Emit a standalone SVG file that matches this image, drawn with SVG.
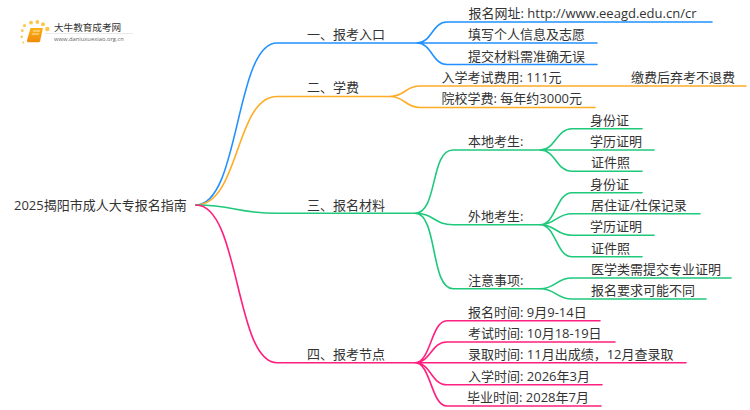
<svg xmlns="http://www.w3.org/2000/svg" width="750" height="410" viewBox="0 0 750 410">
<defs><linearGradient id="bk" x1="0" y1="0" x2="0" y2="1"><stop offset="0" stop-color="#fbb216"/><stop offset="1" stop-color="#f08a0c"/></linearGradient></defs>
<style>
text{font-family:"Open Sans","Noto Sans CJK SC",sans-serif;font-size:13px;fill:#333}
.c{fill:none;stroke-width:1.6;stroke-linecap:round}
.b{stroke:#2291ff}.o{stroke:#ffab24}.g{stroke:#1fc97c}.p{stroke:#ff1f7f}
.d{fill:#fbc64a}
</style>
<rect width="750" height="410" fill="#fff"/>
<g id="logo">
<circle class="d" cx="47.300" cy="29" r="2.200"/><circle class="d" cx="43" cy="24.300" r="2"/><circle class="d" cx="37.300" cy="22" r="1.900"/><circle class="d" cx="31" cy="22.700" r="1.900"/><circle class="d" cx="24.500" cy="25.500" r="1.600"/><circle class="d" cx="22.300" cy="30.700" r="1.400"/><circle class="d" cx="21.700" cy="36.700" r="1.200"/><circle class="d" cx="23.400" cy="42.400" r="1"/>
<path d="M30.500 28h12.500l-3 13.500q-.4 .8-1.500 .8h-10.500q-1.500-.3-1-2z" fill="url(#bk)"/><path d="M33 31h7M32 34h7" stroke="#ffe6b0" stroke-width="1"/>
<text x="54" y="31" style="font-size:9.600px">大牛教育成考网</text>
<text x="54" y="41" style="font-size:5.800px;fill:#666">www.daniuxuexiao.org.cn</text>
<path d="M45 33.500h88" stroke="#e4e4e4" stroke-width="0.800"/>
</g>
<g id="connectors">
<path class="c b" d="M196 205C240 205 235 43 277 43H417"/>
<path class="c o" d="M196 205C240 205 235 96.500 277 96.500H390"/>
<path class="c g" d="M196 205C235 205 235 213.300 277 213.300H415"/>
<path class="c p" d="M196 205C240 205 235 362.700 277 362.700H415"/>
<path class="c b" d="M417 43C432 43 432 22 447 22H712M417 43H597M417 43C432 43 432 64.500 447 64.500H597"/>
<path class="c o" d="M390 96.500C405 96.500 405 86 420 86H746M390 96.500C405 96.500 405 107.500 420 107.500H595"/>
<path class="c g" d="M415 213.300C438 213.300 430 150 453 150H540M415 213.300C434 213.300 434 224.700 453 224.700H540M415 213.300C438 213.300 430 288.700 453 288.700H540"/>
<path class="c g" d="M540 150C556 150 556 128.700 572 128.700H642M540 150H654M540 150C556 150 556 171.300 572 171.300H642"/>
<path class="c g" d="M540 224.700C556 224.700 556 192.700 572 192.700H642M540 224.700C556 224.700 556 213.700 572 213.700H700M540 224.700C556 224.700 556 235.300 572 235.300H654M540 224.700C556 224.700 556 256.700 572 256.700H642"/>
<path class="c g" d="M540 288.700C556 288.700 556 278 572 278H731M540 288.700C556 288.700 556 299 572 299H706"/>
<path class="c p" d="M415 362.700C431 362.700 431 320.700 447 320.700H600M415 362.700C431 362.700 431 342 447 342H615M415 362.700H686M415 362.700C431 362.700 431 384.700 447 384.700H602M415 362.700C431 362.700 431 406 447 406H601"/>
</g>
<g id="root"><text x="14" y="210">2025揭阳市成人大专报名指南</text></g>
<g id="n1"><text x="307" y="39">一、报考入口</text></g>
<g id="n1-1"><text x="468.500" y="18">报名网址: http://www.eeagd.edu.cn/cr</text></g>
<g id="n1-2"><text x="468" y="39">填写个人信息及志愿</text></g>
<g id="n1-3"><text x="468" y="61">提交材料需准确无误</text></g>
<g id="n2"><text x="307" y="92">二、学费</text></g>
<g id="n2-1"><text x="441.500" y="82">入学考试费用: 111元</text></g>
<g id="n2-1-1"><text x="631" y="82">缴费后弃考不退费</text></g>
<g id="n2-2"><text x="441.500" y="103">院校学费: 每年约3000元</text></g>
<g id="n3"><text x="307" y="210">三、报名材料</text></g>
<g id="n3-1"><text x="468" y="146">本地考生:</text></g>
<g id="n3-1-1"><text x="590" y="125">身份证</text></g>
<g id="n3-1-2"><text x="590" y="146">学历证明</text></g>
<g id="n3-1-3"><text x="591" y="167">证件照</text></g>
<g id="n3-2"><text x="468" y="221">外地考生:</text></g>
<g id="n3-2-1"><text x="590" y="189">身份证</text></g>
<g id="n3-2-2"><text x="591" y="210">居住证/社保记录</text></g>
<g id="n3-2-3"><text x="590" y="231">学历证明</text></g>
<g id="n3-2-4"><text x="591" y="253">证件照</text></g>
<g id="n3-3"><text x="468" y="285">注意事项:</text></g>
<g id="n3-3-1"><text x="591" y="274">医学类需提交专业证明</text></g>
<g id="n3-3-2"><text x="591" y="295">报名要求可能不同</text></g>
<g id="n4"><text x="307" y="359">四、报考节点</text></g>
<g id="n4-1"><text x="468" y="317">报名时间: 9月9-14日</text></g>
<g id="n4-2"><text x="468" y="338">考试时间: 10月18-19日</text></g>
<g id="n4-3"><text x="468" y="359">录取时间: 11月出成绩，12月查录取</text></g>
<g id="n4-4"><text x="468" y="381">入学时间: 2026年3月</text></g>
<g id="n4-5"><text x="467" y="402">毕业时间: 2028年7月</text></g>
</svg>
